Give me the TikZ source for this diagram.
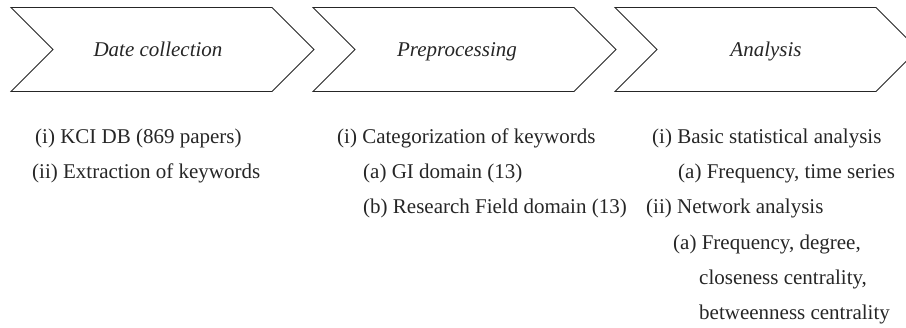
\documentclass[tikz,border=0pt]{standalone}
\usepackage{fontspec}
\setmainfont{Liberation Serif}
\begin{document}
\begin{tikzpicture}[x=1pt,y=-1pt,
  chev/.style={draw=black!85,line width=0.9pt,fill=white,line join=miter},
  title/.style={inner sep=0pt,anchor=base,font=\fontsize{21}{25}\selectfont\itshape,text=black!85},
  item/.style={inner sep=0pt,anchor=base west,font=\fontsize{21}{25}\selectfont,text=black!85}]
\useasboundingbox (0,0) rectangle (906,328);
\clip (0,0) rectangle (906,328);
% chevrons
\foreach \L in {11,313,615}{
  \draw[chev] (\L,7.5) -- (\L+261,7.5) -- (\L+303,49.5) -- (\L+261,91.5) -- (\L,91.5) -- (\L+42,49.5) -- cycle;
}
\node[title] (t1) at (158,57) {Date collection};
\node[title] (t2) at (457,57) {Preprocessing};
\node[title] (t3) at (766,57) {Analysis};
% column 1
\node[item] (c1a) at (35,144) {(i) KCI DB (869 papers)};
\node[item] (c1b) at (32,179) {(ii) Extraction of keywords};
% column 2
\node[item] (c2a) at (337,144) {(i) Categorization of keywords};
\node[item] (c2b) at (363,179) {(a) GI domain (13)};
\node[item] (c2c) at (363,214) {(b) Research Field domain (13)};
% column 3
\node[item] (c3a) at (652,144) {(i) Basic statistical analysis};
\node[item] (c3b) at (678,179) {(a) Frequency, time series};
\node[item] (c3c) at (646,214) {(ii) Network analysis};
\node[item] (c3d) at (673,250) {(a) Frequency, degree,};
\node[item] (c3e) at (699,285) {closeness centrality,};
\node[item] (c3f) at (699,320) {betweenness centrality};
\end{tikzpicture}
\end{document}
